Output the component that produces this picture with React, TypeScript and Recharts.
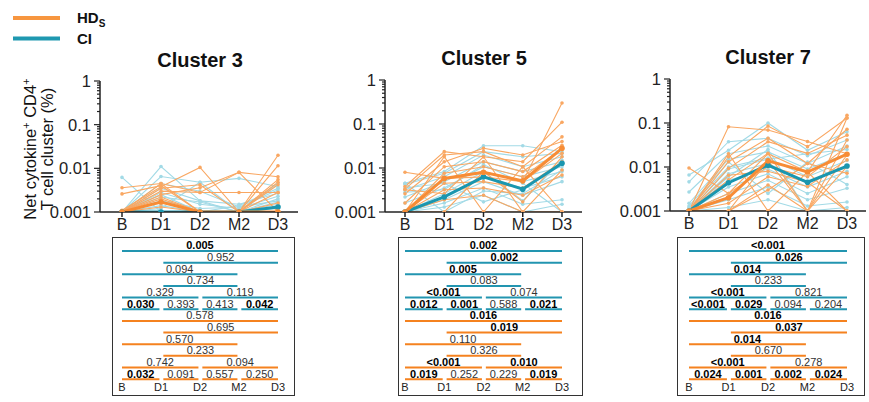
import React from 'react';
import { LineChart, Line, XAxis, YAxis, ReferenceLine } from 'recharts';

const FONT = '"Liberation Sans", Arial, Helvetica, sans-serif';
const CI_LIGHT = '#A2DAE6';
const HD_LIGHT = '#F9A762';
const CI_DARK = '#1A96AF';
const HD_DARK = '#F78C35';
const CI_TABLE = '#2295B0';
const HD_TABLE = '#F5821F';

const timepoints = ['B', 'D1', 'D2', 'M2', 'D3'];
const yTicksAll = [
  0.001, 0.002, 0.003, 0.004, 0.005, 0.006, 0.007, 0.008, 0.009,
  0.01, 0.02, 0.03, 0.04, 0.05, 0.06, 0.07, 0.08, 0.09,
  0.1, 0.2, 0.3, 0.4, 0.5, 0.6, 0.7, 0.8, 0.9, 1,
];

// ---------- Cluster 3 ----------
const c3CI = [
  [0.0062, 0.001, 0.001, 0.001, 0.0017],
  [0.001, 0.011, 0.0018, 0.001, 0.0045],
  [0.001, 0.0065, 0.0048, 0.0059, 0.0038],
  [0.001, 0.0045, 0.003, 0.0013, 0.0032],
  [0.001, 0.0035, 0.0018, 0.0015, 0.0027],
  [0.001, 0.0028, 0.0015, 0.0012, 0.0023],
  [0.001, 0.0022, 0.0017, 0.001, 0.002],
  [0.001, 0.0018, 0.0012, 0.0013, 0.0018],
  [0.001, 0.0014, 0.001, 0.001, 0.0015],
  [0.001, 0.0012, 0.0048, 0.001, 0.0012],
  [0.001, 0.001, 0.001, 0.001, 0.001],
  [0.001, 0.0025, 0.001, 0.0014, 0.0035],
];
const c3HD = [
  [0.0036, 0.0045, 0.001, 0.001, 0.0028],
  [0.0026, 0.004, 0.001, 0.001, 0.001],
  [0.0011, 0.0038, 0.0105, 0.001, 0.02],
  [0.001, 0.0045, 0.0028, 0.0081, 0.001],
  [0.001, 0.0035, 0.0042, 0.001, 0.0115],
  [0.001, 0.003, 0.0028, 0.0028, 0.0028],
  [0.001, 0.0025, 0.0036, 0.0081, 0.0064],
  [0.001, 0.002, 0.001, 0.001, 0.0055],
  [0.001, 0.0017, 0.001, 0.001, 0.0048],
  [0.001, 0.0013, 0.001, 0.001, 0.0042],
  [0.001, 0.001, 0.001, 0.001, 0.0016],
  [0.001, 0.0022, 0.001, 0.001, 0.001],
];
const c3CIMean = [0.001, 0.001, 0.001, 0.001, 0.0013];
const c3HDMean = [0.001, 0.0017, 0.001, 0.001, 0.001];
const c3CIp = ['0.005', '0.952', '0.094', '0.734', '0.329', '0.119', '0.030', '0.393', '0.413', '0.042'];
const c3HDp = ['0.578', '0.695', '0.570', '0.233', '0.742', '0.094', '0.032', '0.091', '0.557', '0.250'];

// ---------- Cluster 5 ----------
const c5CI = [
  [0.0045, 0.0083, 0.032, 0.032, 0.0235],
  [0.0042, 0.0076, 0.0235, 0.018, 0.0215],
  [0.0032, 0.0063, 0.0197, 0.0107, 0.018],
  [0.0022, 0.0049, 0.0139, 0.0083, 0.0139],
  [0.0016, 0.0035, 0.0107, 0.0063, 0.0107],
  [0.001, 0.0026, 0.0083, 0.0049, 0.0083],
  [0.001, 0.0022, 0.0063, 0.0035, 0.0063],
  [0.001, 0.0019, 0.0049, 0.0024, 0.0049],
  [0.001, 0.0016, 0.0035, 0.0015, 0.0019],
  [0.001, 0.0013, 0.0024, 0.001, 0.0015],
  [0.0035, 0.0045, 0.0017, 0.0032, 0.012],
  [0.001, 0.0058, 0.0083, 0.0018, 0.015],
  [0.0045, 0.001, 0.003, 0.0026, 0.009],
  [0.0028, 0.0032, 0.012, 0.0045, 0.001],
];
const c5HD = [
  [0.008, 0.0058, 0.0083, 0.0049, 0.3],
  [0.0038, 0.0235, 0.018, 0.0139, 0.11],
  [0.0033, 0.0197, 0.0235, 0.0107, 0.051],
  [0.0026, 0.0139, 0.028, 0.0197, 0.04],
  [0.0016, 0.0107, 0.0139, 0.0083, 0.033],
  [0.001, 0.0076, 0.0107, 0.0063, 0.028],
  [0.001, 0.0058, 0.0063, 0.0049, 0.0215],
  [0.001, 0.0045, 0.0049, 0.0035, 0.0139],
  [0.001, 0.0032, 0.0035, 0.0024, 0.0069],
  [0.001, 0.0019, 0.0024, 0.001, 0.001],
  [0.001, 0.001, 0.0083, 0.0017, 0.018],
  [0.001, 0.018, 0.001, 0.0107, 0.001],
  [0.001, 0.001, 0.001, 0.001, 0.001],
  [0.0032, 0.0026, 0.018, 0.001, 0.009],
];
const c5CIMean = [0.001, 0.0022, 0.0063, 0.0033, 0.0128];
const c5HDMean = [0.001, 0.0058, 0.008, 0.0051, 0.028];
const c5CIp = ['0.002', '0.002', '0.005', '0.083', '<0.001', '0.074', '0.012', '0.001', '0.588', '0.021'];
const c5HDp = ['0.016', '0.019', '0.110', '0.326', '<0.001', '0.010', '0.019', '0.252', '0.229', '0.019'];

// ---------- Cluster 7 ----------
const c7CI = [
  [0.0066, 0.024, 0.1, 0.024, 0.063],
  [0.0046, 0.0376, 0.045, 0.018, 0.041],
  [0.0027, 0.02, 0.03, 0.012, 0.03],
  [0.0015, 0.015, 0.022, 0.009, 0.02],
  [0.0012, 0.01, 0.016, 0.006, 0.014],
  [0.001, 0.007, 0.012, 0.0045, 0.01],
  [0.001, 0.005, 0.009, 0.0035, 0.008],
  [0.001, 0.0035, 0.007, 0.0025, 0.006],
  [0.001, 0.0025, 0.005, 0.0018, 0.0033],
  [0.001, 0.0018, 0.0035, 0.0013, 0.0016],
  [0.001, 0.0012, 0.0018, 0.001, 0.0012],
  [0.001, 0.006, 0.025, 0.001, 0.001],
  [0.0013, 0.013, 0.0025, 0.013, 0.004],
  [0.001, 0.009, 0.015, 0.02, 0.025],
];
const c7HD = [
  [0.0095, 0.0025, 0.02, 0.0078, 0.15],
  [0.001, 0.082, 0.069, 0.038, 0.02],
  [0.001, 0.017, 0.085, 0.029, 0.13],
  [0.001, 0.0132, 0.045, 0.012, 0.072],
  [0.001, 0.0093, 0.0376, 0.0204, 0.053],
  [0.001, 0.0051, 0.0204, 0.001, 0.041],
  [0.001, 0.0025, 0.0102, 0.006, 0.029],
  [0.001, 0.0015, 0.006, 0.0036, 0.0145],
  [0.001, 0.001, 0.0039, 0.001, 0.0102],
  [0.001, 0.001, 0.003, 0.012, 0.0072],
  [0.001, 0.02, 0.001, 0.0078, 0.001],
  [0.001, 0.001, 0.014, 0.001, 0.13],
  [0.001, 0.0065, 0.008, 0.0045, 0.001],
  [0.001, 0.001, 0.001, 0.001, 0.019],
];
const c7CIMean = [0.001, 0.0044, 0.011, 0.0045, 0.0105];
const c7HDMean = [0.001, 0.002, 0.0138, 0.0077, 0.0195];
const c7CIp = ['<0.001', '0.026', '0.014', '0.233', '<0.001', '0.821', '<0.001', '0.029', '0.094', '0.204'];
const c7HDp = ['0.016', '0.037', '0.014', '0.670', '<0.001', '0.278', '0.024', '0.001', '0.002', '0.024'];

// comparisons: [from, to, row]
const comparisons = [
  [0, 4, 0], [1, 4, 1], [0, 3, 2], [1, 3, 3], [0, 2, 4], [2, 4, 4],
  [0, 1, 5], [1, 2, 5], [2, 3, 5], [3, 4, 5],
];

type Geom = { axisX: number; top: number; bottom: number; end: number; padL: number; padR: number; titleX: number; titleY: number; boxL: number; boxR: number };

const isSig = (p: string) => p.startsWith('<') || parseFloat(p) < 0.05;

const LogTick = (props: any) => {
  const { x, y, payload } = props;
  const v = payload.value as number;
  const lg = Math.log10(v);
  const major = Math.abs(lg - Math.round(lg)) < 1e-6;
  const ax = x + 9;
  return (
    <g>
      <line x1={ax} x2={ax - (major ? 6 : 3)} y1={y} y2={y} stroke="#222" strokeWidth={1.2} />
      {major && (
        <text x={x} y={y} dy="0.36em" textAnchor="end" fontSize={16.5} fill="#222" fontFamily={FONT}>
          {String(v)}
        </text>
      )}
    </g>
  );
};

function Panel({ title, ci, hd, ciMean, hdMean, ciP, hdP, g }: any) {
  const geom: Geom = g;
  const data = timepoints.map((t, i) => {
    const row: any = { tp: t };
    ci.forEach((s: number[], k: number) => (row['ci' + k] = s[i]));
    hd.forEach((s: number[], k: number) => (row['hd' + k] = s[i]));
    row.ciMean = ciMean[i];
    row.hdMean = hdMean[i];
    return row;
  });
  const yW = 60;
  const width = yW + (geom.end - geom.axisX) + 4;
  const xH = 32;
  const height = geom.bottom + xH;

  // table geometry
  const bx = geom.axisX + geom.padL;
  const d3x = geom.end - geom.padR;
  const tMarginTop = 20;
  const tTop = 251 - tMarginTop;
  const rowStep = 11.65;
  const tPlotH = rowStep * 11;
  const tXH = 18;
  const tableData = timepoints.map((t, i) => ({ x: i, v: 0 }));

  const segs: any[] = [];
  [ciP, hdP].forEach((ps: string[], gi: number) => {
    comparisons.forEach(([a, b, r], k) => {
      const p = ps[k];
      segs.push({
        key: gi + '-' + k,
        x1: a + (a > 0 ? 0.06 : 0),
        x2: b - (b < 4 ? 0.04 : 0),
        y: r + gi * 6,
        p,
        color: gi === 0 ? CI_TABLE : HD_TABLE,
      });
    });
  });

  return (
    <>
      <div
        style={{
          position: 'absolute',
          left: geom.titleX - 70,
          width: 140,
          top: geom.titleY - 12,
          textAlign: 'center',
          fontSize: 20,
          fontWeight: 'bold',
          lineHeight: '24px',
          color: '#111',
        }}
      >
        {title}
      </div>
      <div style={{ position: 'absolute', left: geom.axisX - yW, top: 0 }}>
        <LineChart width={width} height={height} data={data} margin={{ top: geom.top, right: 4, bottom: 0, left: 0 }}>
          <XAxis
            dataKey="tp"
            padding={{ left: geom.padL, right: geom.padR }}
            height={xH}
            tickSize={5}
            tickMargin={2}
            interval={0}
            stroke="#222"
            strokeWidth={1.5}
            tick={{ fontSize: 16, fill: '#222' }}
          />
          <YAxis
            type="number"
            scale="log"
            domain={[0.001, 1]}
            allowDataOverflow
            ticks={yTicksAll}
            interval={0}
            width={yW}
            tickLine={false}
            tickSize={6}
            tickMargin={3}
            stroke="#222"
            strokeWidth={1.5}
            tick={(p: any) => <LogTick {...p} />}
          />
          {ci.map((_: any, k: number) => (
            <Line
              key={'ci' + k}
              dataKey={'ci' + k}
              stroke={CI_LIGHT}
              strokeWidth={1.1}
              dot={{ r: 1.8, fill: CI_LIGHT, stroke: CI_LIGHT, strokeWidth: 0 }}
              activeDot={false}
              isAnimationActive={false}
            />
          ))}
          {hd.map((_: any, k: number) => (
            <Line
              key={'hd' + k}
              dataKey={'hd' + k}
              stroke={HD_LIGHT}
              strokeWidth={1.1}
              dot={{ r: 1.8, fill: HD_LIGHT, stroke: HD_LIGHT, strokeWidth: 0 }}
              activeDot={false}
              isAnimationActive={false}
            />
          ))}
          <Line
            dataKey="ciMean"
            stroke={CI_DARK}
            strokeWidth={3}
            dot={{ r: 2.8, fill: CI_DARK, stroke: CI_DARK, strokeWidth: 0 }}
            activeDot={false}
            isAnimationActive={false}
          />
          <Line
            dataKey="hdMean"
            stroke={HD_DARK}
            strokeWidth={3}
            dot={{ r: 2.8, fill: HD_DARK, stroke: HD_DARK, strokeWidth: 0 }}
            activeDot={false}
            isAnimationActive={false}
          />
        </LineChart>
      </div>
      <div
        style={{
          position: 'absolute',
          left: geom.boxL,
          top: 237,
          width: geom.boxR - geom.boxL,
          height: 159,
          border: '1.5px solid #333',
          boxSizing: 'border-box',
        }}
      />
      <div style={{ position: 'absolute', left: bx - 10, top: tTop }}>
        <LineChart
          width={d3x - bx + 20}
          height={tMarginTop + tPlotH + tXH}
          data={tableData}
          margin={{ top: tMarginTop, right: 10, bottom: 0, left: 10 }}
        >
          <XAxis
            type="number"
            dataKey="x"
            domain={[0, 4]}
            ticks={[0, 1, 2, 3, 4]}
            interval={0}
            tickFormatter={(i: number) => timepoints[i]}
            axisLine={false}
            tickLine={false}
            tickSize={0}
            tickMargin={4}
            height={tXH}
            tick={{ fontSize: 11, fill: '#222' }}
          />
          <YAxis type="number" domain={[0, 11]} reversed hide allowDataOverflow />
          <Line dataKey="v" stroke="none" dot={false} activeDot={false} isAnimationActive={false} legendType="none" />
          {segs.map((s) => (
            <ReferenceLine
              key={s.key}
              segment={[
                { x: s.x1, y: s.y },
                { x: s.x2, y: s.y },
              ]}
              stroke={s.color}
              strokeWidth={2}
              ifOverflow="visible"
              label={{
                value: s.p,
                position: 'top',
                offset: 1.5,
                fontSize: 11,
                fontWeight: isSig(s.p) ? 'bold' : 'normal',
                fill: isSig(s.p) ? '#000' : '#333',
              }}
            />
          ))}
        </LineChart>
      </div>
    </>
  );
}

const g3: Geom = { axisX: 100, top: 81, bottom: 212, end: 298, padL: 22, padR: 20, titleX: 200, titleY: 60, boxL: 112, boxR: 295 };
const g5: Geom = { axisX: 385, top: 80, bottom: 212, end: 582, padL: 20, padR: 20, titleX: 484, titleY: 58, boxL: 398, boxR: 583 };
const g7: Geom = { axisX: 670, top: 79, bottom: 211, end: 866, padL: 19, padR: 19, titleX: 768, titleY: 57, boxL: 677, boxR: 865 };

export default function App() {
  return (
    <div
      style={{
        position: 'absolute',
        left: 0,
        top: 0,
        width: 869,
        height: 402,
        background: '#fff',
        fontFamily: FONT,
        overflow: 'hidden',
      }}
    >
      <svg style={{ position: 'absolute', left: 0, top: 0 }} width={140} height={230}>
        <line x1={13} x2={60} y1={18} y2={18} stroke="#F7963F" strokeWidth={4} />
        <text x={77} y={18} dy="0.36em" fontSize={15} fontWeight="bold" fill="#111">
          HD
          <tspan fontSize={10} dy={4}>S</tspan>
        </text>
        <line x1={13} x2={60} y1={38.5} y2={38.5} stroke="#1E98B0" strokeWidth={4} />
        <text x={77} y={38.5} dy="0.36em" fontSize={15} fontWeight="bold" fill="#111">
          CI
        </text>
        <g transform="translate(30,149) rotate(-90)">
          <text x={0} y={0} textAnchor="middle" dy="0.36em" fontSize={16.5} fill="#111">
            Net cytokine
            <tspan fontSize={11} dy={-6}>+</tspan>
            <tspan dy={6}> CD4</tspan>
            <tspan fontSize={11} dy={-6}>+</tspan>
          </text>
        </g>
        <g transform="translate(47.5,149) rotate(-90)">
          <text x={0} y={0} textAnchor="middle" dy="0.36em" fontSize={16.5} fill="#111">
            T cell cluster (%)
          </text>
        </g>
      </svg>
      <Panel title="Cluster 3" ci={c3CI} hd={c3HD} ciMean={c3CIMean} hdMean={c3HDMean} ciP={c3CIp} hdP={c3HDp} g={g3} />
      <Panel title="Cluster 5" ci={c5CI} hd={c5HD} ciMean={c5CIMean} hdMean={c5HDMean} ciP={c5CIp} hdP={c5HDp} g={g5} />
      <Panel title="Cluster 7" ci={c7CI} hd={c7HD} ciMean={c7CIMean} hdMean={c7HDMean} ciP={c7CIp} hdP={c7HDp} g={g7} />
    </div>
  );
}
